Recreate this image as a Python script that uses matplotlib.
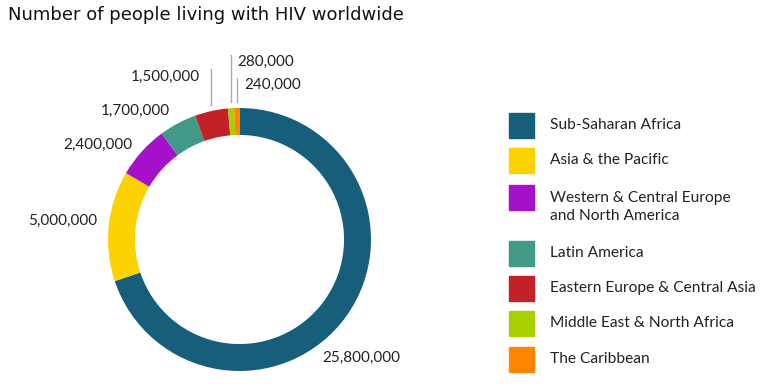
import numpy as np
import matplotlib
matplotlib.use('Agg')
import matplotlib.pyplot as plt

regions = ['Sub-Saharan Africa', 'Asia & the Pacific',
           'Western & Central Europe\nand North America', 'Latin America',
           'Eastern Europe & Central Asia', 'Middle East & North Africa',
           'The Caribbean']
people = [25800000, 5000000, 2400000, 1700000, 1500000, 280000, 240000]
colors = ['#175e7b', '#fcd200', '#a511cb', '#419a88', '#c32127', '#a8cf00', '#ff8600']

W, H = 777, 390
cx, cy, R = 239.5, 239.5, 131.5  # donut centre / radius in pixels (from top)

fig = plt.figure(figsize=(W / 100, H / 100), dpi=100)
ax = fig.add_axes([(cx - R) / W, (H - cy - R) / H, 2 * R / W, 2 * R / H])
ax.axis('off')

wedges, _ = ax.pie(people, colors=colors, startangle=90, counterclock=False,
                   radius=1, wedgeprops=dict(width=0.205, linewidth=0))
ax.set_xlim(-1, 1)
ax.set_ylim(-1, 1)
ax.set_aspect('equal')

def px(x, y):
    # pixel position (from top-left) -> data coords
    return (x - cx) / R, (cy - y) / R

label_font = dict(family='Lato', fontsize=11, color='#222222')

# label positions in pixels: (x, y, ha)
label_pos = [(361, 358, 'center'), (97, 221, 'right'), (132, 145, 'right'),
             (170, 111, 'right'), (200, 77, 'right'), (237, 62, 'left'),
             (244, 85, 'left')]
for v, (x, y, ha) in zip(people, label_pos):
    ax.text(*px(x, y), f'{v:,}', ha=ha, va='center', clip_on=False, **label_font)

# leader lines for the small slices
line_tops = {4: 69, 5: 55, 6: 78}
for i, top in line_tops.items():
    w = wedges[i]
    ang = np.deg2rad((w.theta1 + w.theta2) / 2)
    x = np.cos(ang)
    y0 = np.sin(ang) * 1.045
    y1 = (cy - top) / R
    ax.plot([x, x], [y0, y1], color='#aaaaaa', lw=1, clip_on=False)

# legend
leg_font = dict(label_font, fontsize=11.2)
leg_y = [125, 160, 197, 253, 288, 323, 359]
for name, col, y in zip(regions, colors, leg_y):
    fig.patches.append(plt.Rectangle((509 / W, (H - y - 12.5) / H), 25 / W, 25 / H,
                                     transform=fig.transFigure, color=col))
    ty = y + (10 if '\n' in name else 0)
    fig.text(550 / W, (H - ty) / H, name, ha='left', va='center',
             linespacing=1.45, **leg_font)

fig.text(8 / W, (H - 15) / H, 'Number of people living with HIV worldwide',
         ha='left', va='center', family='DejaVu Sans', fontsize=13, color='#111111')

fig.savefig('out.png', dpi=100)
